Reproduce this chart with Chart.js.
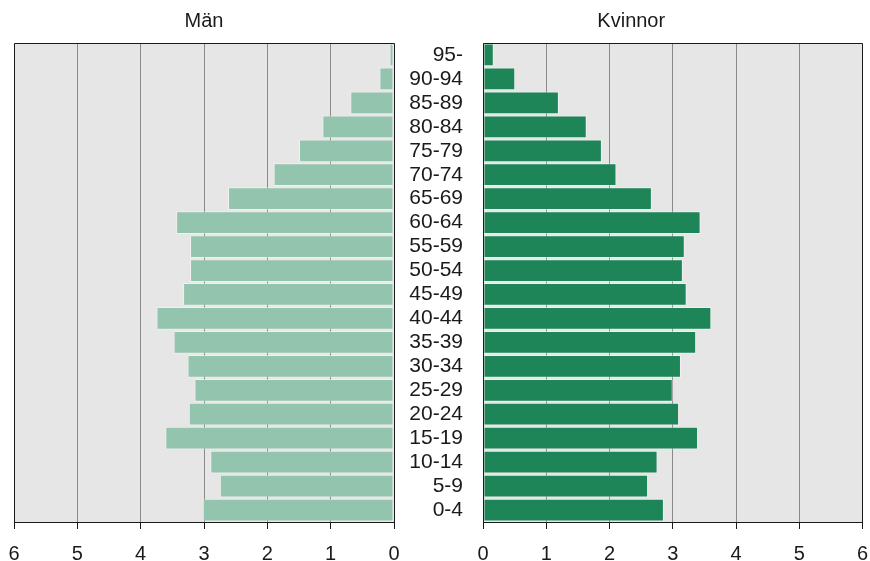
<!DOCTYPE html>
<html>
<head>
<meta charset="utf-8">
<script src="https://cdn.jsdelivr.net/npm/chart.js@4/dist/chart.umd.min.js"></script>
<style>
  html, body { margin: 0; padding: 0; background: #ffffff; }
  #wrap { position: relative; width: 870px; height: 561px; overflow: hidden; }
  #left { position: absolute; left: 0; top: 0; }
  #right { position: absolute; left: 400px; top: 0; }
</style>
</head>
<body>
<div id="wrap">
  <canvas id="left" width="400" height="561"></canvas>
  <canvas id="right" width="470" height="561"></canvas>
</div>
<script>
const ageGroups = ["95-", "90-94", "85-89", "80-84", "75-79", "70-74", "65-69", "60-64", "55-59", "50-54",
  "45-49", "40-44", "35-39", "30-34", "25-29", "20-24", "15-19", "10-14", "5-9", "0-4"];
const men = [0.07, 0.23, 0.69, 1.13, 1.50, 1.90, 2.62, 3.44, 3.22, 3.22,
  3.33, 3.75, 3.48, 3.26, 3.15, 3.24, 3.61, 2.90, 2.75, 3.02];
const women = [0.17, 0.51, 1.20, 1.64, 1.88, 2.11, 2.67, 3.44, 3.19, 3.16,
  3.22, 3.61, 3.37, 3.13, 3.00, 3.10, 3.40, 2.76, 2.61, 2.86];
const xTicks = [0, 1, 2, 3, 4, 5, 6];
const titleMen = "Män";
const titleWomen = "Kvinnor";

const FONT = "'Liberation Sans', Arial, sans-serif";

const plotBg = {
  id: 'plotBg',
  beforeDraw(chart) {
    const a = chart.chartArea, c = chart.ctx;
    c.save();
    c.fillStyle = '#e6e6e6';
    c.fillRect(a.left, a.top, a.right - a.left, a.bottom - a.top);
    c.restore();
  },
  afterDraw(chart) {
    const a = chart.chartArea, c = chart.ctx;
    const l = Math.floor(a.left) + 0.5, t = Math.floor(a.top) + 0.5;
    const r = Math.floor(a.right) + 0.5, b = Math.floor(a.bottom) + 0.5;
    c.save();
    c.strokeStyle = '#1a1a1a';
    c.lineWidth = 1;
    c.beginPath();
    c.moveTo(l, b); c.lineTo(l, t); c.lineTo(r, t); c.lineTo(r, b);
    c.stroke();
    c.restore();
  }
};

function makeChart(id, data, color, reverse, title, padding, showY) {
  return new Chart(document.getElementById(id), {
    type: 'bar',
    data: {
      labels: ageGroups,
      datasets: [{
        data: data,
        backgroundColor: color,
        borderColor: 'rgba(255,255,255,0.45)',
        borderWidth: 1,
        borderSkipped: false,
        barPercentage: 0.95,
        categoryPercentage: 1.0
      }]
    },
    options: {
      indexAxis: 'y',
      responsive: false,
      animation: false,
      devicePixelRatio: 1,
      layout: { padding: padding },
      plugins: {
        legend: { display: false },
        tooltip: { enabled: false },
        title: {
          display: true,
          text: title,
          color: '#1a1a1a',
          font: { family: FONT, size: 20, weight: 'normal' },
          padding: { top: 9.5, bottom: 9.5 }
        }
      },
      scales: {
        x: {
          type: 'linear',
          reverse: reverse,
          min: 0,
          max: 6,
          afterBuildTicks(scale) { scale.ticks = xTicks.map(v => ({ value: v })); },
          afterFit(scale) {
            scale.paddingLeft = 0;
            scale.paddingRight = 0;
            scale.height = 39;
          },
          grid: {
            color: (ctx) => (ctx.tick && (ctx.tick.value === 0 || ctx.tick.value === 6)) ? 'rgba(0,0,0,0)' : '#8a8a8a',
            tickColor: '#1a1a1a',
            tickWidth: 1,
            tickLength: 7,
            lineWidth: 1,
            drawTicks: true
          },
          border: { display: true, color: '#1a1a1a', width: 1 },
          ticks: {
            color: '#1a1a1a',
            font: { family: FONT, size: 20, lineHeight: 1 },
            padding: 15,
            maxRotation: 0,
            autoSkip: false
          }
        },
        y: {
          display: showY,
          grid: { display: false, drawTicks: false },
          border: { display: false },
          afterFit(scale) {
            if (showY) scale.width = 83;
            scale.paddingTop = 0;
            scale.paddingBottom = 0;
          },
          ticks: {
            color: '#1a1a1a',
            font: { family: FONT, size: 21 },
            padding: 20,
            autoSkip: false
          }
        }
      }
    },
    plugins: [plotBg]
  });
}

makeChart('left', men, '#93c4ad', true, titleMen, { left: 14, right: 6, top: 0, bottom: 0 }, false);
makeChart('right', women, '#1e8559', false, titleWomen, { left: 0, right: 7.5, top: 0, bottom: 0 }, true);
</script>
</body>
</html>
